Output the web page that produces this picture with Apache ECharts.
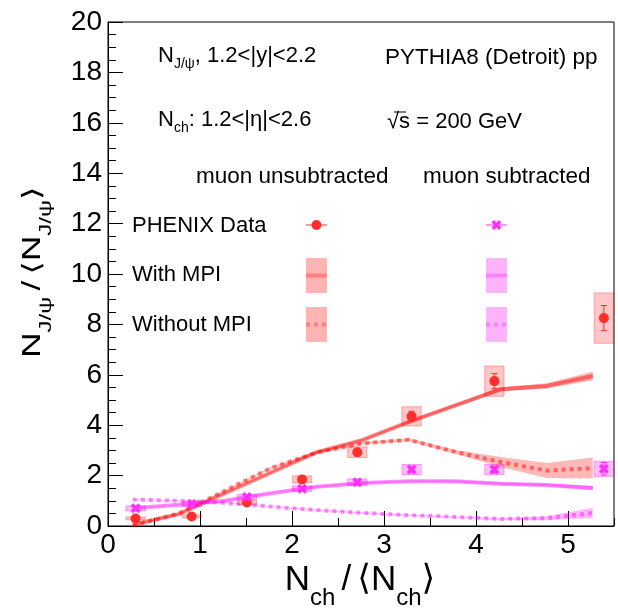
<!DOCTYPE html>
<html>
<head>
<meta charset="utf-8">
<script src="https://cdn.jsdelivr.net/npm/echarts@6/dist/echarts.min.js"></script>
<style>
  html, body { margin: 0; padding: 0; background: #fff; }
  #chart { width: 618px; height: 608px; }
</style>
</head>
<body>
<div id="chart"></div>
<script>
// PHENIX data, N_ch/<N_ch> bin positions
const dataX = [0.30, 0.91, 1.51, 2.11, 2.71, 3.30, 4.20, 5.39];
// muon unsubtracted
const unsubY    = [0.30, 0.38, 0.93, 1.85, 2.93, 4.35, 5.75, 8.25];
const unsubSys  = [0.06, 0.06, 0.08, 0.14, 0.21, 0.38, 0.60, 1.00];
const unsubStat = [0.05, 0.05, 0.07, 0.10, 0.15, 0.20, 0.30, 0.50];
// muon subtracted
const subY    = [0.70, 0.87, 1.15, 1.48, 1.74, 2.24, 2.24, 2.27];
const subSys  = [0.10, 0.10, 0.10, 0.11, 0.13, 0.20, 0.20, 0.30];
const subStat = [0.05, 0.05, 0.06, 0.07, 0.08, 0.10, 0.12, 0.25];

// PYTHIA8 curves
const simX = [0.27, 0.77, 1.27, 1.77, 2.27, 2.77, 3.27, 3.77, 4.27, 4.77, 5.27];
const unsubMpi      = [0.05, 0.47, 1.30, 2.12, 2.93, 3.42, 4.13, 4.78, 5.43, 5.56, 5.95];
const unsubMpiErr   = [0.02, 0.02, 0.03, 0.03, 0.04, 0.04, 0.05, 0.06, 0.08, 0.10, 0.18];
const unsubNoMpi    = [0.02, 0.50, 1.40, 2.30, 2.92, 3.28, 3.42, 2.95, 2.54, 2.20, 2.30];
const unsubNoMpiErr = [0.02, 0.02, 0.03, 0.04, 0.05, 0.05, 0.06, 0.08, 0.20, 0.30, 0.42];
const subMpi        = [0.70, 0.84, 1.00, 1.30, 1.56, 1.71, 1.78, 1.78, 1.68, 1.63, 1.51];
const subMpiErr     = [0.02, 0.02, 0.02, 0.02, 0.03, 0.03, 0.03, 0.04, 0.04, 0.05, 0.08];
const subNoMpi      = [1.05, 1.00, 0.92, 0.77, 0.63, 0.52, 0.43, 0.36, 0.28, 0.31, 0.52];
const subNoMpiErr   = [0.02, 0.02, 0.02, 0.02, 0.02, 0.03, 0.03, 0.03, 0.04, 0.08, 0.20];

const FONT = "'Liberation Sans', Arial, Helvetica, sans-serif";
const RED = '#ff2e2e', MAG = '#ff2eff';
const boxHalf = 0.105;
const xShape = 'path://M0 2.5L2.5 0L5 2.5L7.5 0L10 2.5L7.5 5L10 7.5L7.5 10L5 7.5L2.5 10L0 7.5L2.5 5Z';

let chart = echarts.init(document.getElementById('chart'));

function boxSeries(ys, sys, fill, stroke) {
  return {
    type: 'custom', z: 2, silent: true,
    data: dataX.map((x, i) => [x, ys[i], sys[i]]),
    encode: { x: 0, y: 1 },
    renderItem: (params, api) => {
      let x = api.value(0), y = api.value(1), e = api.value(2);
      let p1 = api.coord([x - boxHalf, y + e]);
      let p2 = api.coord([x + boxHalf, y - e]);
      let h = Math.max(p2[1] - p1[1], 3);
      return { type: 'rect', shape: { x: p1[0], y: (p1[1] + p2[1]) / 2 - h / 2, width: p2[0] - p1[0], height: h },
        style: { fill: fill, stroke: stroke, lineWidth: 1 } };
    }
  };
}

function errSeries(ys, stat, color) {
  return {
    type: 'custom', z: 5, silent: true,
    data: dataX.map((x, i) => [x, ys[i], stat[i]]),
    encode: { x: 0, y: 1 },
    renderItem: (params, api) => {
      let x = api.value(0), y = api.value(1), e = api.value(2);
      let lo = api.coord([x, y - e]), hi = api.coord([x, y + e]);
      return { type: 'group', children: [
        { type: 'line', shape: { x1: lo[0], y1: lo[1], x2: hi[0], y2: hi[1] }, style: { stroke: color, lineWidth: 1 } },
        { type: 'line', shape: { x1: lo[0] - 3, y1: lo[1], x2: lo[0] + 3, y2: lo[1] }, style: { stroke: color, lineWidth: 1 } },
        { type: 'line', shape: { x1: hi[0] - 3, y1: hi[1], x2: hi[0] + 3, y2: hi[1] }, style: { stroke: color, lineWidth: 1 } }
      ] };
    }
  };
}

function bandSeries(ys, errs, fill) {
  return {
    type: 'custom', z: 3, silent: true,
    data: simX.map((x, i) => [x, ys[i]]),
    encode: { x: 0, y: 1 },
    renderItem: (params, api) => {
      if (params.dataIndex !== 0) return null;
      let up = simX.map((x, i) => api.coord([x, ys[i] + errs[i]]));
      let dn = simX.map((x, i) => api.coord([x, ys[i] - errs[i]])).reverse();
      return { type: 'polygon', shape: { points: up.concat(dn) }, style: { fill: fill } };
    }
  };
}

function curve(ys, color, dashed) {
  return {
    type: 'line', z: 4, silent: true, symbol: 'none',
    data: simX.map((x, i) => [x, ys[i]]),
    lineStyle: { color: color, width: 4, type: dashed ? [4, 4] : 'solid', cap: 'butt' }
  };
}

const rich22 = {
  m: { fontSize: 22, fontFamily: FONT, fill: '#000' },
  s: { fontSize: 14, fontFamily: FONT, fill: '#000', padding: [16, 0, 0, 0] }
};
const richTitle = {
  m: { fontSize: 35, fontFamily: FONT, fill: '#000' },
  s: { fontSize: 24, fontFamily: FONT, fill: '#000', padding: [36, 0, 0, 0] },
  g: { fontSize: 22, fontFamily: FONT, fill: '#000' },
  b: { fontSize: 35, fontFamily: "'DejaVu Sans', sans-serif", fill: '#000' }
};

function label(x, y, text, size, rich) {
  return { type: 'text', x: x, y: y, silent: true,
    style: { text: text, rich: rich, fontSize: size, fontFamily: FONT, fill: '#000',
      align: 'left', verticalAlign: 'middle', textAlign: 'left', textVerticalAlign: 'middle' } };
}

function xPoly(cx, cy, s) {
  let pts = [[0,2.5],[2.5,0],[5,2.5],[7.5,0],[10,2.5],[7.5,5],[10,7.5],[7.5,10],[5,7.5],[2.5,10],[0,7.5],[2.5,5]];
  return pts.map(p => [cx + (p[0] - 5) * s / 10, cy + (p[1] - 5) * s / 10]);
}

let graphics = [
  label(158, 56, '{m|N}{s|J/ψ}{m|, 1.2<|y|<2.2}', 22, rich22),
  label(385, 58, 'PYTHIA8 (Detroit) pp', 22.5),
  label(158, 120, '{m|N}{s|ch}{m|: 1.2<|η|<2.6}', 22, rich22),
  label(387, 122, '√s = 200 GeV', 22),
  { type: 'line', silent: true, shape: { x1: 394, y1: 112, x2: 406, y2: 112 }, style: { stroke: '#000', lineWidth: 1 } },
  label(196, 177, 'muon unsubtracted', 22.5),
  label(423, 177, 'muon subtracted', 22.5),
  label(132, 226, 'PHENIX Data', 22),
  label(132, 275, 'With MPI', 22),
  label(132, 325, 'Without MPI', 22),
  // legend: data
  { type: 'line', silent: true, shape: { x1: 306, y1: 225, x2: 327, y2: 225 }, style: { stroke: RED, lineWidth: 1 } },
  { type: 'circle', silent: true, shape: { cx: 316.5, cy: 225, r: 5 }, style: { fill: RED } },
  { type: 'line', silent: true, shape: { x1: 486, y1: 225, x2: 507, y2: 225 }, style: { stroke: MAG, lineWidth: 1 } },
  { type: 'polygon', silent: true, shape: { points: xPoly(496.5, 225, 10) }, style: { fill: MAG } },
  // legend: models
  { type: 'rect', silent: true, shape: { x: 306, y: 258, width: 21, height: 35 }, style: { fill: '#ffb4b4' } },
  { type: 'line', silent: true, shape: { x1: 306, y1: 275.5, x2: 327, y2: 275.5 }, style: { stroke: '#ff7e7e', lineWidth: 4 } },
  { type: 'rect', silent: true, shape: { x: 486, y: 258, width: 21, height: 35 }, style: { fill: '#fdb4fd' } },
  { type: 'line', silent: true, shape: { x1: 486, y1: 275.5, x2: 507, y2: 275.5 }, style: { stroke: '#ff80ff', lineWidth: 4 } },
  { type: 'rect', silent: true, shape: { x: 306, y: 307, width: 21, height: 35 }, style: { fill: '#ffb4b4' } },
  { type: 'line', silent: true, shape: { x1: 306, y1: 324.5, x2: 327, y2: 324.5 }, style: { stroke: '#ff7e7e', lineWidth: 4, lineDash: [4, 4] } },
  { type: 'rect', silent: true, shape: { x: 486, y: 307, width: 21, height: 35 }, style: { fill: '#fdb4fd' } },
  { type: 'line', silent: true, shape: { x1: 486, y1: 324.5, x2: 507, y2: 324.5 }, style: { stroke: '#ff80ff', lineWidth: 4, lineDash: [4, 4] } },
  // axis titles
  { type: 'text', x: 360, y: 580, silent: true,
    style: { text: '{m|N}{s|ch}{g| }{m|/}{g| }{b|⟨}{m|N}{s|ch}{b|⟩}', rich: richTitle, fill: '#000',
      align: 'center', verticalAlign: 'middle', textAlign: 'center', textVerticalAlign: 'middle' } },
  { type: 'text', x: 33.5, y: 272, rotation: Math.PI / 2, scaleY: 0.72, silent: true,
    style: { text: '{m|N}{s|J/ψ}{g| }{m|/}{g| }{b|⟨}{m|N}{s|J/ψ}{b|⟩}', rich: richTitle, fill: '#000',
      align: 'center', verticalAlign: 'middle', textAlign: 'center', textVerticalAlign: 'middle' } }
];

let axisText = { fontSize: 28, color: '#000', fontFamily: FONT };

let option = {
  animation: false,
  backgroundColor: '#fff',
  grid: { left: 108, right: 4, top: 22, bottom: 82, show: true, borderColor: '#000', borderWidth: 1, backgroundColor: 'transparent' },
  xAxis: [{
    type: 'value', min: 0, max: 5.5, interval: 1, position: 'bottom',
    axisLine: { show: true, onZero: false, lineStyle: { color: '#000', width: 1 } },
    axisTick: { show: true, inside: true, length: 15, lineStyle: { color: '#000' } },
    axisLabel: Object.assign({ margin: 5, showMaxLabel: false }, axisText),
    splitLine: { show: false }
  }, {
    type: 'value', min: 0, max: 5.5, interval: 0.5, position: 'bottom',
    axisLine: { show: false },
    axisTick: { show: true, inside: true, length: 8, lineStyle: { color: '#000' } },
    axisLabel: { show: false },
    splitLine: { show: false }
  }],
  yAxis: {
    type: 'value', min: 0, max: 20, interval: 2,
    axisLine: { show: true, onZero: false, lineStyle: { color: '#000', width: 1 } },
    axisTick: { show: true, inside: true, length: 15, lineStyle: { color: '#000' } },
    minorTick: { show: true, splitNumber: 4, length: 8, lineStyle: { color: '#000' } },
    axisLabel: Object.assign({ margin: 6 }, axisText),
    splitLine: { show: false }
  },
  graphic: graphics,
  series: [
    boxSeries(unsubY, unsubSys, 'rgba(255,0,0,0.22)', 'rgba(255,0,0,0.3)'),
    boxSeries(subY, subSys, 'rgba(255,0,255,0.25)', 'rgba(255,0,255,0.35)'),
    bandSeries(unsubMpi, unsubMpiErr, 'rgba(255,0,0,0.28)'),
    bandSeries(unsubNoMpi, unsubNoMpiErr, 'rgba(255,0,0,0.28)'),
    bandSeries(subMpi, subMpiErr, 'rgba(255,0,255,0.28)'),
    bandSeries(subNoMpi, subNoMpiErr, 'rgba(255,0,255,0.28)'),
    curve(unsubMpi, 'rgba(255,0,0,0.48)', false),
    curve(unsubNoMpi, 'rgba(255,0,0,0.48)', true),
    curve(subMpi, 'rgba(255,0,255,0.45)', false),
    curve(subNoMpi, 'rgba(255,0,255,0.45)', true),
    errSeries(unsubY, unsubStat, RED),
    errSeries(subY, subStat, MAG),
    { type: 'scatter', z: 6, silent: true, symbol: 'circle', symbolSize: 10,
      data: dataX.map((x, i) => [x, unsubY[i]]), itemStyle: { color: RED, opacity: 1 } },
    { type: 'scatter', z: 6, silent: true, symbol: xShape, symbolSize: 10,
      data: dataX.map((x, i) => [x, subY[i]]), itemStyle: { color: MAG, opacity: 1 } }
  ]
};
chart.setOption(option);
</script>
</body>
</html>
